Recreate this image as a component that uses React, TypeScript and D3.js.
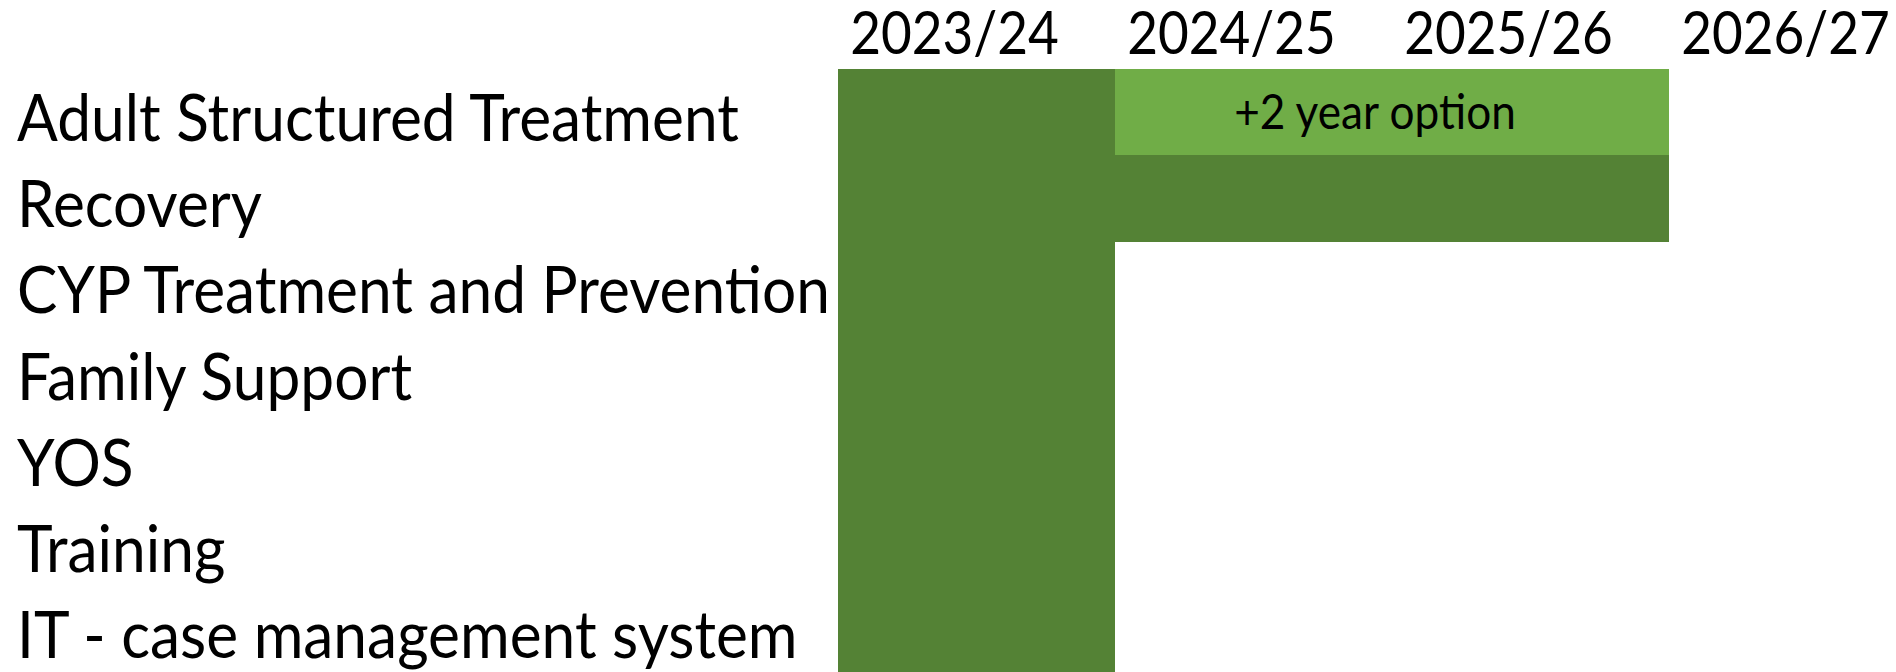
import React from "react";
import * as d3 from "d3";

const years = ["2023/24", "2024/25", "2025/26", "2026/27"];
const services = [
  "Adult Structured Treatment",
  "Recovery",
  "CYP Treatment and Prevention",
  "Family Support",
  "YOS",
  "Training",
  "IT - case management system",
];
// contract periods, in year indexes (start inclusive, end exclusive)
const contractStart = [0, 0, 0, 0, 0, 0, 0];
const contractEnd = [1, 3, 1, 1, 1, 1, 1];
// optional extensions
const optionService = ["Adult Structured Treatment"];
const optionStart = [1];
const optionEnd = [3];
const optionLabel = ["+2 year option"];

const W = 1896;
const H = 672;
const DARK = "#548235";
const LIGHT = "#70AD47";
const FONT = "Lato, 'Open Sans', sans-serif";

export default function App() {
  const x = d3.scaleLinear().domain([0, years.length]).range([838, 838 + years.length * 277]);
  const y = d3.scaleBand().domain(services).range([69, 672]).paddingInner(0).paddingOuter(0);
  const bw = y.bandwidth();

  return (
    <svg width={W} height={H} style={{ position: "absolute", left: 0, top: 0, background: "#fff" }}>
      <g shapeRendering="crispEdges">
        {services.map((s, i) => (
          <rect
            key={"c" + i}
            x={x(contractStart[i])}
            y={y(s)}
            width={x(contractEnd[i]) - x(contractStart[i])}
            height={bw + 0.5}
            fill={DARK}
          />
        ))}
        {optionService.map((s, i) => (
          <rect
            key={"o" + i}
            x={x(optionStart[i])}
            y={y(s)}
            width={x(optionEnd[i]) - x(optionStart[i])}
            height={bw}
            fill={LIGHT}
          />
        ))}
      </g>
      {optionService.map((s, i) => (
        <text
          key={"ol" + i}
          transform={`translate(${(x(optionStart[i]) + x(optionEnd[i])) / 2 - 17},${(y(s) as number) + bw / 2 + 17}) scale(0.92,1)`}
          textAnchor="middle"
          fontFamily={FONT}
          fontSize={48}
          fill="#000"
        >
          {optionLabel[i]}
        </text>
      ))}
      {years.map((yr, i) => (
        <text
          key={yr}
          transform={`translate(${x(i + 0.5) - 22},54) scale(0.885,1)`}
          textAnchor="middle"
          fontFamily={FONT}
          fontSize={60}
          fill="#000"
        >
          {yr}
        </text>
      ))}
      {services.map((s) => (
        <text
          key={s}
          transform={`translate(17,${(y(s) as number) + bw / 2 + 29}) scale(0.93,1)`}
          fontFamily={FONT}
          fontSize={65}
          fill="#000"
        >
          {s}
        </text>
      ))}
    </svg>
  );
}
